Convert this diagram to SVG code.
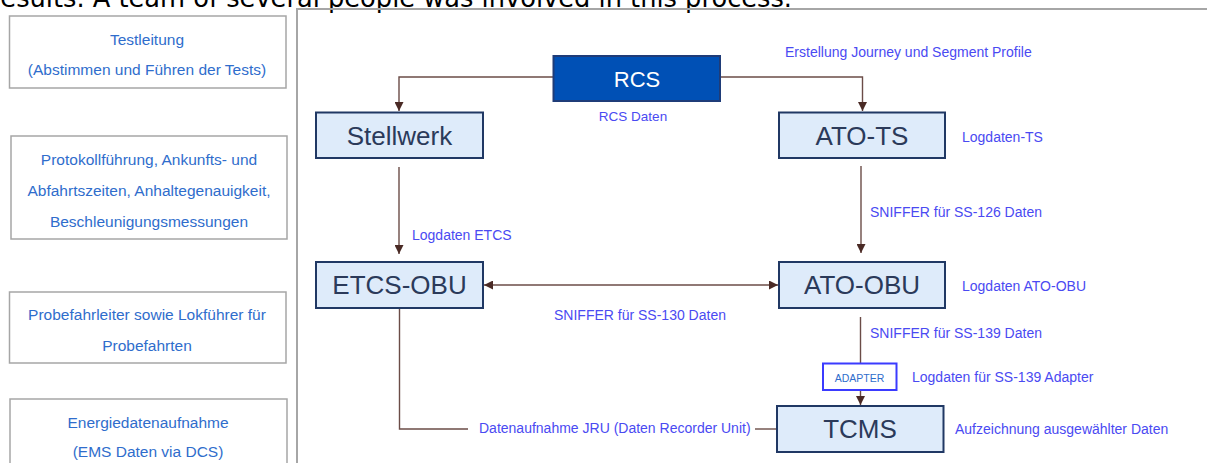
<svg xmlns="http://www.w3.org/2000/svg" width="1207" height="463" viewBox="0 0 1207 463">
<style>
.top{font-family:"DejaVu Sans",sans-serif;font-size:25.7px;fill:#000}
.side rect{fill:#fff;stroke:#a6a6a6;stroke-width:1.5}
.side text{font-family:"Liberation Sans",Arial,sans-serif;font-size:15.5px;fill:#2f6dcc;text-anchor:middle}
.node rect{fill:#deebfa;stroke:#203864;stroke-width:2}
.node text{font-family:"Liberation Sans",Arial,sans-serif;font-size:26px;fill:#2b3a5a;text-anchor:middle}
.lbl{font-family:"Liberation Sans",Arial,sans-serif;font-size:14px;fill:#4a4af2}
.conn path{fill:none;stroke:#6b4c47;stroke-width:1.4}
</style>
<defs>
<marker id="ah" viewBox="0 0 9 9" refX="9" refY="4.5" markerWidth="9" markerHeight="9" markerUnits="userSpaceOnUse" orient="auto-start-reverse">
<path d="M0,0 L9,4.5 L0,9 z" fill="#4a2a25"/>
</marker>
</defs>
<rect width="1207" height="463" fill="#fff"/>
<text class="top" x="792" y="7" text-anchor="end">results. A team of several people was involved in this process.</text>

<g id="side-panel" class="side">
<g id="side-testleitung">
<rect x="9.5" y="16" width="276.5" height="72"/>
<text x="147" y="45">Testleitung</text>
<text x="147" y="75">(Abstimmen und Führen der Tests)</text>
</g>
<g id="side-protokoll">
<rect x="11" y="136" width="276" height="103"/>
<text x="149" y="165">Protokollführung, Ankunfts- und</text>
<text x="149" y="196">Abfahrtszeiten, Anhaltegenauigkeit,</text>
<text x="149" y="227">Beschleunigungsmessungen</text>
</g>
<g id="side-probefahrt">
<rect x="9.5" y="292" width="276.5" height="71"/>
<text x="147" y="320">Probefahrleiter sowie Lokführer für</text>
<text x="147" y="351">Probefahrten</text>
</g>
<g id="side-energie">
<rect x="10" y="399" width="277" height="80"/>
<text x="148" y="428">Energiedatenaufnahme</text>
<text x="148" y="457">(EMS Daten via DCS)</text>
</g>
</g>

<rect id="panel" x="297" y="9" width="930" height="480" fill="none" stroke="#a6a6a6" stroke-width="2"/>

<g id="connectors" class="conn">
<path d="M553,77 H399 V111" marker-end="url(#ah)"/>
<path d="M720,77 H862.5 V111" marker-end="url(#ah)"/>
<path d="M399,167 V254" marker-end="url(#ah)"/>
<path d="M861,166 V253" marker-end="url(#ah)"/>
<path d="M484,285 H778" marker-start="url(#ah)" marker-end="url(#ah)"/>
<path d="M860.5,317 V363"/>
<path d="M860.5,390 V405" marker-end="url(#ah)"/>
<path d="M399.5,309 V429 H468"/>
<path d="M755,429 H777"/>
</g>

<g id="node-rcs" class="node">
<rect x="553.5" y="56" width="166.5" height="45" style="fill:#0050b5;stroke:#1f3c78"/>
<text x="637" y="87" style="fill:#fff;font-size:22px">RCS</text>
</g>
<g id="node-stellwerk" class="node">
<rect x="316" y="112.5" width="167" height="45.5"/>
<text x="399.5" y="145">Stellwerk</text>
</g>
<g id="node-atots" class="node">
<rect x="779" y="112.5" width="166" height="45.5"/>
<text x="862" y="145">ATO-TS</text>
</g>
<g id="node-etcsobu" class="node">
<rect x="316" y="262" width="167" height="46"/>
<text x="399.5" y="294">ETCS-OBU</text>
</g>
<g id="node-atoobu" class="node">
<rect x="779" y="262" width="166" height="46"/>
<text x="862" y="294">ATO-OBU</text>
</g>
<g id="node-adapter">
<rect x="823" y="363.5" width="73.5" height="26.5" fill="#fff" stroke="#3b3bff" stroke-width="2"/>
<text x="859.5" y="382" font-family="Liberation Sans, Arial, sans-serif" font-size="10.5" fill="#2f6dcc" text-anchor="middle">ADAPTER</text>
</g>
<g id="node-tcms" class="node">
<rect x="777" y="406" width="166.5" height="46"/>
<text x="860" y="437.5">TCMS</text>
</g>

<g id="labels">
<text class="lbl" x="633" y="121" text-anchor="middle" style="font-size:13.5px">RCS Daten</text>
<text class="lbl" x="785" y="57">Erstellung Journey und Segment Profile</text>
<text class="lbl" x="962" y="142">Logdaten-TS</text>
<text class="lbl" x="412" y="240">Logdaten ETCS</text>
<text class="lbl" x="870" y="217">SNIFFER für SS-126 Daten</text>
<text class="lbl" x="962" y="291">Logdaten ATO-OBU</text>
<text class="lbl" x="554" y="320">SNIFFER für SS-130 Daten</text>
<text class="lbl" x="870" y="338">SNIFFER für SS-139 Daten</text>
<text class="lbl" x="912" y="382">Logdaten für SS-139 Adapter</text>
<text class="lbl" x="479" y="433">Datenaufnahme JRU (Daten Recorder Unit)</text>
<text class="lbl" x="955" y="434">Aufzeichnung ausgewählter Daten</text>
</g>
</svg>
